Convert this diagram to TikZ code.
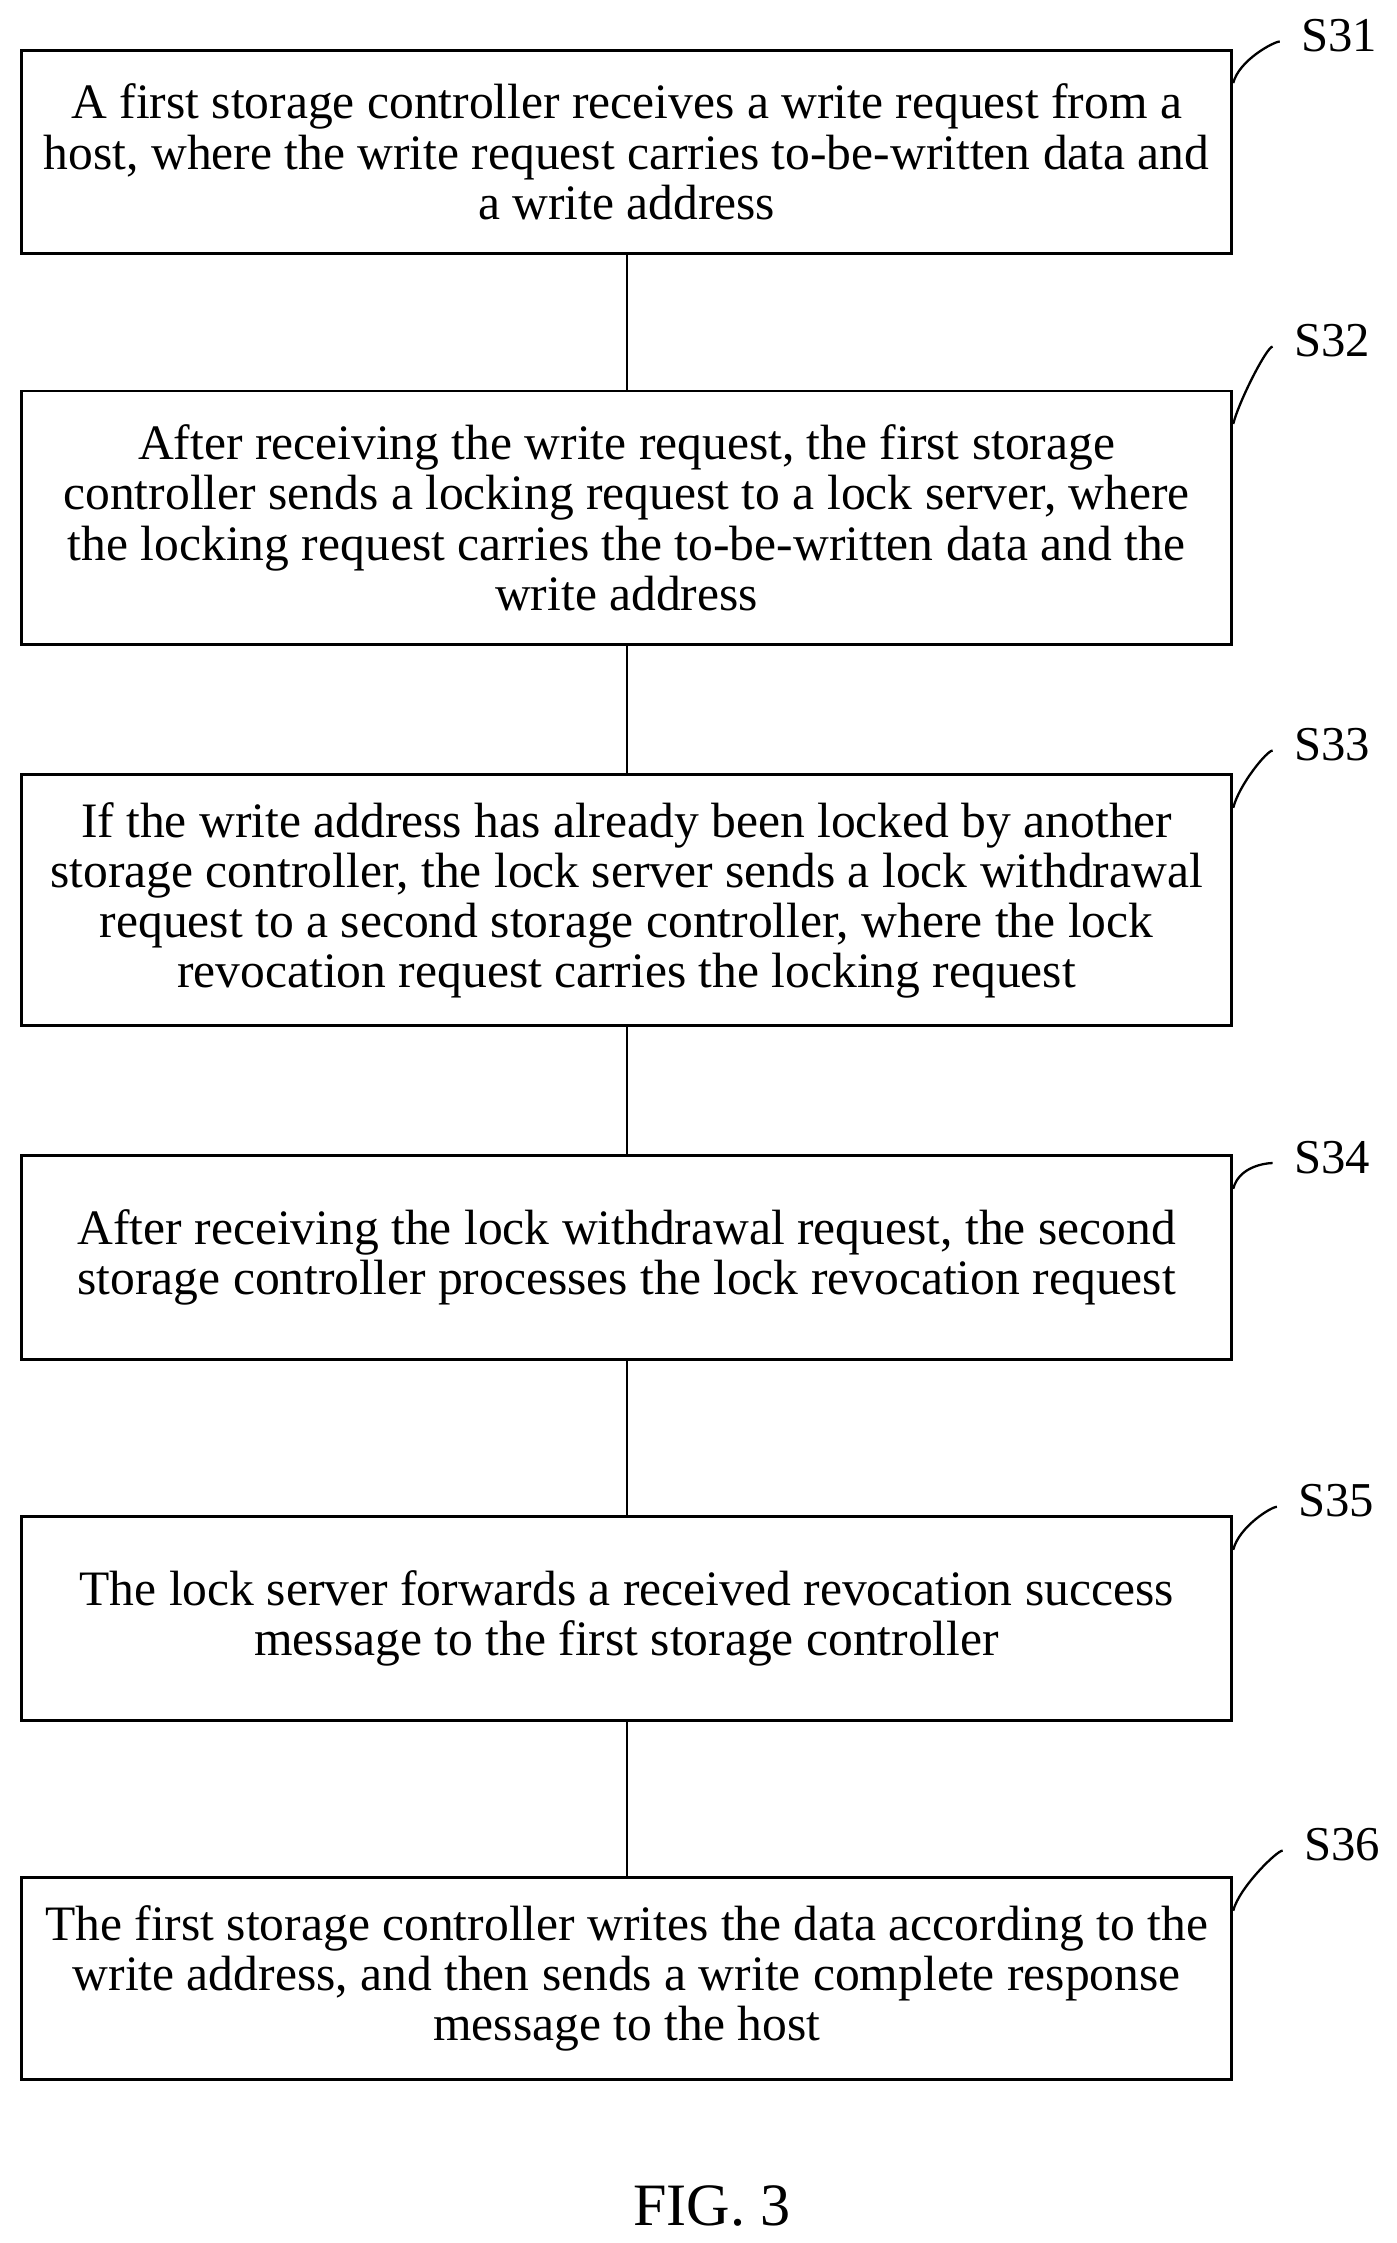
\documentclass[tikz,border=0pt]{standalone}
\usepackage{fontspec}
\setmainfont{Liberation Serif}
\begin{document}
\begin{tikzpicture}[x=0.5pt,y=-0.5pt,
  box/.style={draw,line width=1pt,minimum width=422.5pt,align=center,inner sep=0pt,font=\fontsize{17.3}{17.5}\selectfont},
  lab/.style={font=\fontsize{17}{17.6}\selectfont,anchor=center},
  curl/.style={line width=0.8pt}]
\useasboundingbox (0,0) rectangle (975,1566);
\node[box,minimum height=71pt] (b1) at (437.5,106) {A first storage controller receives a write request from a\\host, where the write request carries to-be-written data and\\a write address};
\node[box,minimum height=88.5pt] (b2) at (437.5,361.5) {After receiving the write request, the first storage\\controller sends a locking request to a lock server, where\\the locking request carries the to-be-written data and the\\write address};
\node[box,minimum height=87.5pt] (b3) at (437.5,628.5) {If the write address has already been locked by another\\storage controller, the lock server sends a lock withdrawal\\request to a second storage controller, where the lock\\revocation request carries the locking request};
\node[box,minimum height=71pt] (b4) at (437.5,878) {After receiving the lock withdrawal request, the second\\storage controller processes the lock revocation request};
\node[box,minimum height=71pt] (b5) at (437.5,1130) {The lock server forwards a received revocation success\\message to the first storage controller};
\node[box,minimum height=70.5pt] (b6) at (437.5,1381.5) {The first storage controller writes the data according to the\\write address, and then sends a write complete response\\message to the host};
\foreach \a/\b in {b1/b2,b2/b3,b3/b4,b4/b5,b5/b6} \draw[line width=0.8pt] (\a.south) -- (\b.north);
\foreach \b/\t/\lx/\ly in {b1/S31/935/25,b2/S32/930/238,b3/S33/930/520,b4/S34/930/808,b5/S35/933/1048,b6/S36/937/1288}{
  \node[lab] (l\t) at (\lx,\ly) {\t};
  \coordinate (c\t) at ([xshift=0pt,yshift=-12pt]\b.north east);
  \draw[curl] (c\t) .. controls ([xshift=2pt,yshift=8pt]c\t) and ([xshift=-6pt,yshift=-2pt]l\t.west) .. ([xshift=-4pt,yshift=-2pt]l\t.west);
}
\node[font=\fontsize{21}{24}\selectfont] (fig) at (497,1540) {FIG. 3};
\end{tikzpicture}
\end{document}
